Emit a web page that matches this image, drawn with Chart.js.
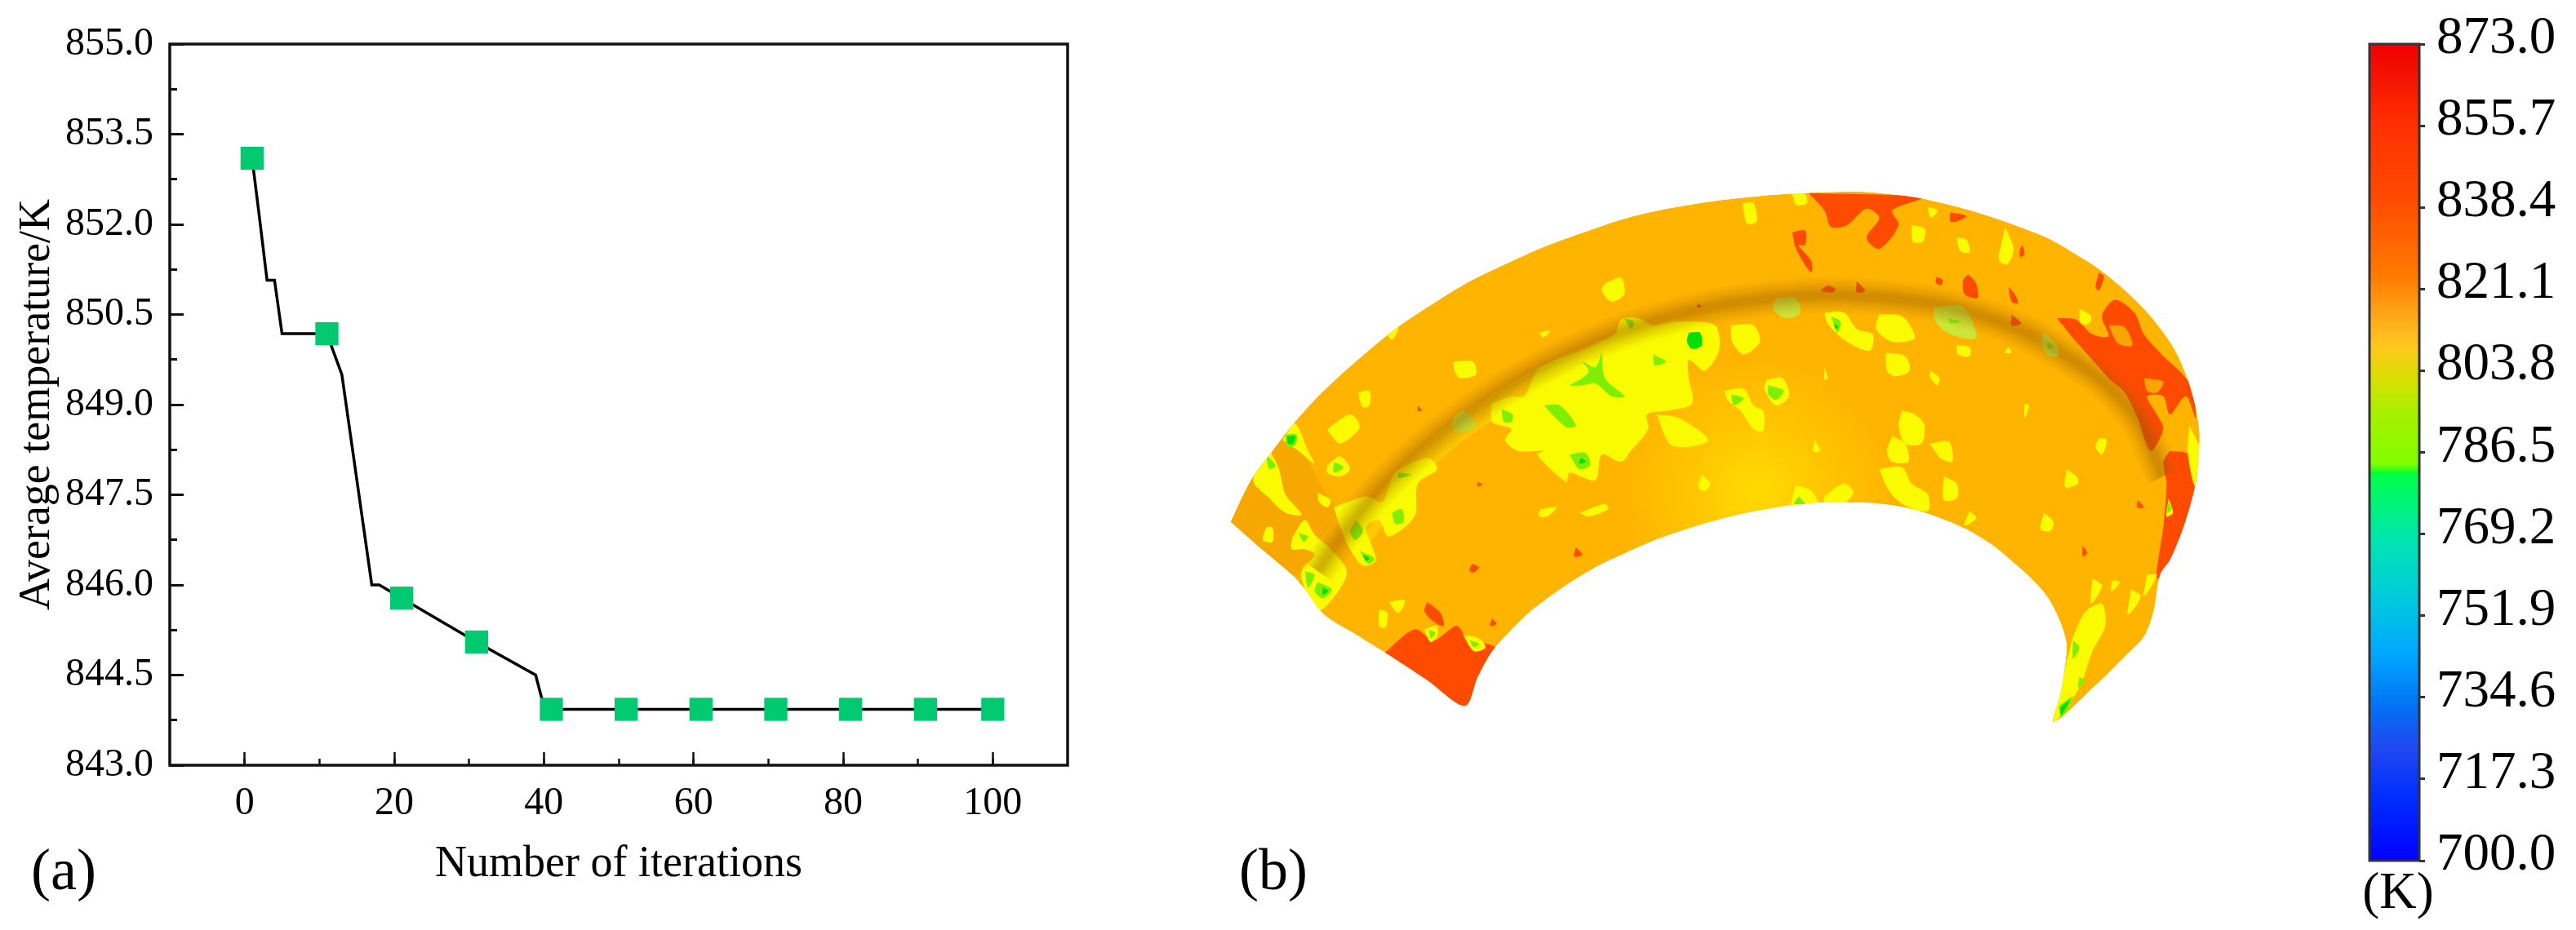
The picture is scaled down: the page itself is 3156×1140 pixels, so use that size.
<!doctype html>
<html>
	<head>
		<meta charset="utf-8" />
		<title>Average temperature and wall temperature field</title>
		<script src="https://cdn.jsdelivr.net/npm/chart.js@4/dist/chart.umd.min.js"></script>
		<style>
			html,
			body {
				margin: 0;
				padding: 0;
				background: #fff;
				overflow: hidden;
			}
			canvas {
				position: absolute;
			}
		</style>
	</head>
	<body>
		<canvas id="curveChart" width="1400" height="1140" style="left: 0; top: 0"></canvas>
		<canvas id="surfaceChart" width="1240" height="940" style="left: 1480px; top: 200px"></canvas>
		<canvas id="barChart" width="356" height="1140" style="left: 2800px; top: 0"></canvas>

		<script>
			// panel (a)
			const lineX = [1, 2, 3, 4, 5, 11, 13, 14.6, 17, 18, 21, 31, 38.9, 39.7, 41, 100];
			const lineY = [853.1, 852.1, 851.07, 851.07, 850.18, 850.18, 849.5, 848.1, 846, 846, 845.78, 845.05, 844.5, 844.12, 843.93, 843.93];
			const markerX = [1, 11, 21, 31, 41, 51, 61, 71, 81, 91, 100];
			const markerY = [853.1, 850.18, 845.78, 845.05, 843.93, 843.93, 843.93, 843.93, 843.93, 843.93, 843.93];
			const xTicks = [0, 20, 40, 60, 80, 100];
			const xMinorTicks = [0, 10, 20, 30, 40, 50, 60, 70, 80, 90, 100];
			const yTicks = [843, 844.5, 846, 847.5, 849, 850.5, 852, 853.5, 855];
			const yMinorTicks = [843.75, 845.25, 846.75, 848.25, 849.75, 851.25, 852.75, 854.25];

			// colour bar of panel (b)
			const barTicks = [700, 717.3, 734.6, 751.9, 769.2, 786.5, 803.8, 821.1, 838.4, 855.7, 873];
			const rampValues = [700, 714, 724, 734, 744, 755, 768, 781.7, 782, 784, 795, 802, 809, 815, 824, 840, 856, 873];
			const rampColors = ["#0000ff", "#0030ff", "#2048f0", "#0078f5", "#00a8ff", "#00c8e0", "#00e6b0", "#00ff4a", "#00ff30", "#7fff00", "#a8f000", "#d8e000", "#ffc81e", "#ffaa1a", "#ff7a00", "#ff4b00", "#ff3000", "#ee0000"];

			// panel (b), outlines on a 1568 x 1568 grid
			const surfaceOutline = [[35,985],[52,920],[70,860],[100,790],[130,720],[165,650],[200,590],[245,520],[290,455],[345,390],[400,330],[460,278],[520,230],[585,188],[650,150],[715,124],[780,105],[855,90],[930,82],[1000,78],[1050,84],[1100,95],[1150,115],[1200,140],[1250,170],[1300,205],[1340,245],[1380,290],[1418,345],[1450,400],[1478,460],[1500,520],[1517,590],[1530,670],[1536,740],[1535,800],[1530,880],[1520,950],[1507,1020],[1490,1090],[1475,1130],[1465,1230],[1450,1300],[1420,1355],[1380,1425],[1310,1535],[1320,1460],[1326,1400],[1330,1320],[1318,1250],[1300,1190],[1278,1145],[1250,1100],[1218,1052],[1180,1010],[1135,975],[1090,950],[1045,936],[1000,932],[950,932],[900,940],[850,955],[800,975],[750,1000],[700,1030],[650,1068],[600,1110],[550,1165],[500,1230],[468,1285],[440,1340],[418,1410],[398,1490],[340,1420],[280,1350],[230,1295],[180,1240],[150,1170],[130,1130],[80,1055]];
			const darkerPatches = [
				[[35,985],[70,860],[130,720],[150,800],[180,900],[200,960],[160,1060],[140,1130],[130,1130],[80,1055]],
			];
			const ridgeLine = [[170,1120],[205,1030],[280,870],[400,690],[540,540],[700,430],[880,370],[1050,370],[1200,420],[1330,530],[1430,680],[1480,860]];
			const glowLine = [[235,1030],[320,840],[450,660],[590,530],[730,455]];
			const redPatches = [
				[[930,82],[1105,95],[1060,130],[1070,170],[1040,235],[1020,205],[1040,150],[1020,125],[990,170],[965,175],[955,130]],
				[[905,190],[925,185],[925,225],[915,225],[935,270],[935,300],[925,280],[910,230]],
				[[1150,135],[1175,145],[1160,160],[1150,160]],
				[[1178,305],[1190,330],[1192,370],[1172,360],[1170,320]],
				[[1128,312],[1138,320],[1136,335],[1128,330]],
				[[1240,340],[1250,360],[1255,385],[1245,380]],
				[[1005,325],[1018,350],[1005,355]],
				[[960,335],[972,345],[968,355],[950,350]],
				[[1380,300],[1388,310],[1380,350],[1375,340]],
				[[1315,425],[1345,430],[1370,470],[1395,475],[1385,420],[1405,375],[1435,410],[1450,470],[1480,530],[1510,580],[1525,620],[1530,700],[1515,640],[1490,690],[1480,640],[1455,640],[1470,690],[1480,730],[1460,790],[1440,700],[1420,630],[1395,590],[1370,540],[1340,480]],
				[[1490,790],[1520,800],[1536,880],[1525,950],[1510,1020],[1495,1090],[1470,1140],[1480,1000],[1485,880],[1480,820]],
				[[270,1350],[320,1280],[350,1310],[385,1270],[400,1300],[460,1345],[430,1420],[398,1510],[340,1430]],
				[[340,1205],[360,1235],[365,1270],[350,1260],[335,1230]],
				[[1245,415],[1260,440],[1245,445]],
				[[1440,925],[1450,945],[1440,945]],
				[[570,1055],[580,1075],[567,1080]],
				[[410,1100],[420,1110],[410,1125],[405,1115]],
				[[325,665],[332,680],[325,680]],
				[[440,1250],[447,1265],[437,1270]],
				[[1355,1050],[1362,1070],[1355,1080]],
				[[760,385],[765,395],[757,395]],
				[[1262,225],[1265,250],[1258,258],[1258,235]],
				[[418,875],[425,882],[418,888]],
			];
			const orangeHoles = [
				[[1395,445],[1420,450],[1432,500],[1410,495]],
				[[1450,590],[1480,600],[1470,630],[1455,625]],
			];
			const yellowPatches = [
				[[440,660],[470,640],[490,640],[510,570],[540,540],[570,520],[630,470],[640,430],[665,425],[690,445],[730,435],[785,445],[792,510],[770,570],[745,540],[745,590],[750,660],[710,680],[680,690],[682,730],[655,790],[640,820],[610,800],[600,870],[560,850],[555,875],[510,800],[520,790],[480,790],[460,760],[470,730],[440,710]],
				[[695,690],[730,700],[775,760],[740,780],[715,770]],
				[[380,545],[410,545],[415,580],[390,590],[382,570]],
				[[615,330],[640,315],[645,360],[625,380],[610,350]],
				[[828,110],[845,110],[850,160],[835,165]],
				[[810,445],[845,445],[855,490],[830,525],[812,490]],
				[[1040,415],[1075,420],[1095,480],[1060,490],[1035,455]],
				[[955,410],[985,410],[1005,455],[1030,470],[1025,515],[990,490],[960,440]],
				[[1050,520],[1080,530],[1087,570],[1065,585],[1052,570]],
				[[1090,170],[1110,180],[1108,215],[1092,215]],
				[[1160,205],[1175,210],[1180,245],[1165,240]],
				[[1235,175],[1248,235],[1238,278],[1225,265],[1230,215]],
				[[1115,120],[1130,130],[1120,150]],
				[[905,85],[925,85],[928,110],[912,115]],
				[[1350,400],[1368,420],[1365,440],[1352,440]],
				[[1160,500],[1180,505],[1180,530],[1162,525]],
				[[1120,570],[1133,590],[1130,610],[1118,585]],
				[[1075,680],[1095,690],[1110,720],[1105,770],[1080,770],[1070,720]],
				[[1060,750],[1080,770],[1085,820],[1060,820],[1052,790]],
				[[1118,770],[1148,765],[1153,820],[1135,810]],
				[[1040,840],[1075,835],[1090,880],[1115,910],[1115,955],[1080,940],[1055,900]],
				[[1140,860],[1160,880],[1160,920],[1140,925]],
				[[1330,840],[1345,860],[1348,880],[1328,890]],
				[[1180,955],[1190,975],[1172,995]],
				[[1295,960],[1310,985],[1305,1010],[1290,1005]],
				[[1380,755],[1392,760],[1385,800],[1375,780]],
				[[1265,660],[1272,665],[1265,700]],
				[[800,625],[830,620],[845,665],[860,680],[860,735],[845,730],[825,680],[805,650]],
				[[865,595],[890,590],[900,640],[880,665],[862,620]],
				[[1240,505],[1245,520],[1235,520]],
				[[955,560],[960,590],[955,595]],
				[[940,760],[948,790],[938,792]],
				[[910,885],[935,900],[945,945],[905,950]],
				[[955,915],[985,880],[1000,905],[980,940],[955,942]],
				[[765,855],[778,880],[770,900],[760,890]],
				[[575,960],[615,935],[620,950],[590,970]],
				[[515,950],[540,945],[525,970],[512,968]],
				[[512,465],[530,460],[520,478]],
				[[185,730],[220,690],[235,725],[205,770],[190,745]],
				[[232,630],[250,625],[250,665],[240,670]],
				[[115,760],[135,715],[155,790],[165,825],[140,790]],
				[[185,830],[205,805],[220,840],[205,860],[185,850]],
				[[275,465],[295,450],[285,485]],
				[[95,785],[110,840],[120,910],[145,965],[120,960],[95,920],[70,870]],
				[[90,1000],[100,1000],[100,1040],[85,1035]],
				[[170,905],[190,925],[185,945],[172,930]],
				[[130,1030],[150,980],[165,1020],[190,1060],[215,1120],[200,1180],[170,1230],[150,1170],[145,1120],[165,1075],[150,1060],[130,1060]],
				[[195,945],[245,915],[270,930],[290,850],[340,810],[355,840],[325,880],[320,970],[280,1025],[265,980],[245,1000],[260,1090],[240,1105],[220,1060],[205,1000]],
				[[280,1205],[305,1200],[295,1235]],
				[[265,1225],[278,1235],[275,1275],[265,1270]],
				[[335,1280],[355,1270],[355,1300],[345,1315]],
				[[395,1295],[420,1305],[430,1330],[412,1340]],
				[[1340,1300],[1360,1230],[1385,1210],[1390,1270],[1370,1340],[1350,1440],[1310,1535],[1326,1400]],
				[[1430,1170],[1445,1190],[1425,1240]],
				[[1370,1140],[1385,1160],[1368,1210]],
				[[1400,1145],[1412,1150],[1400,1175]],
				[[1455,1130],[1470,1130],[1450,1190]],
				[[1520,720],[1540,800],[1530,890],[1518,800]],
				[[1488,920],[1495,960],[1485,970]],
			];
			const paleGreenPatches = [
				[[880,370],[910,370],[918,410],[895,425],[875,400]],
				[[1125,395],[1170,395],[1190,480],[1150,470],[1125,430]],
				[[1295,465],[1315,500],[1318,530],[1300,525],[1290,490]],
				[[380,700],[395,680],[415,720],[385,740],[378,720]],
			];
			const lightGreenPatches = [
				[[610,520],[615,590],[645,640],[625,640],[600,605],[580,610],[560,610],[580,590],[590,570],[580,545],[600,560]],
				[[520,665],[545,665],[570,720],[555,725]],
				[[560,800],[585,795],[592,830],[575,840]],
				[[455,675],[472,690],[470,710],[458,710]],
				[[645,425],[660,435],[655,455]],
				[[690,525],[710,545],[692,555]],
				[[810,635],[830,645],[815,665]],
				[[868,610],[892,625],[880,650],[868,635]],
				[[230,980],[240,1010],[228,1035],[220,1010]],
				[[285,960],[300,950],[303,985],[290,990]],
				[[295,850],[315,855],[295,865]],
				[[235,1065],[258,1085],[248,1100]],
				[[170,1150],[192,1170],[178,1195],[165,1175]],
				[[150,1120],[165,1130],[155,1165]],
				[[140,1015],[155,1025],[148,1040]],
				[[195,820],[210,835],[195,850]],
				[[90,800],[105,830],[95,840]],
				[[120,745],[137,745],[135,775],[122,775]],
				[[965,420],[980,435],[975,465]],
				[[1145,425],[1165,435],[1150,440]],
				[[1300,490],[1310,505],[1302,510]],
				[[1340,1310],[1350,1330],[1340,1360]],
				[[1350,1410],[1358,1420],[1348,1440]],
				[[1318,1490],[1340,1465],[1322,1525]],
				[[405,1310],[420,1320],[412,1330]],
				[[915,915],[925,935],[908,935]],
				[[342,1280],[352,1290],[345,1305]],
				[[1488,930],[1493,950],[1486,960]],
			];
			const greenPatches = [
				[[745,465],[762,465],[765,500],[750,510],[742,490]],
				[[122,750],[135,750],[132,770],[124,770]],
				[[240,1075],[250,1085],[245,1092]],
				[[178,1165],[186,1175],[178,1185]],
				[[970,440],[977,450],[972,455]],
				[[578,808],[585,820],[575,825]],
				[[1320,1495],[1335,1475],[1322,1515]],
			];

			const serif = "'Liberation Serif', 'Times New Roman', serif";
			const ink = "#111";

			const boxFrame = {
				id: "boxFrame",
				afterDraw(chart, args, opts) {
					const { ctx, chartArea: a } = chart;
					ctx.save();
					ctx.strokeStyle = opts.color;
					ctx.lineWidth = opts.width;
					ctx.strokeRect(a.left, a.top, a.right - a.left, a.bottom - a.top);
					ctx.restore();
				},
			};
			const panelLabel = {
				id: "panelLabel",
				afterDraw(chart, args, opts) {
					const { ctx } = chart;
					ctx.save();
					ctx.font = opts.size + "px " + serif;
					ctx.fillStyle = "#000";
					ctx.textAlign = "center";
					ctx.textBaseline = "middle";
					ctx.fillText(opts.text, opts.x, opts.y);
					ctx.restore();
				},
			};
			// everything on the shell stays inside dataset 0, the shell outline
			const surfaceClip = {
				id: "surfaceClip",
				beforeDatasetsDraw(chart) {
					const { ctx } = chart;
					ctx.save();
					ctx.beginPath();
					chart.getDatasetMeta(0).dataset.path(ctx);
					ctx.clip();
				},
				afterDatasetsDraw(chart) {
					chart.ctx.restore();
				},
			};

			function setTicks(values) {
				return (axis) => {
					axis.ticks = values.map((value) => ({ value }));
				};
			}
			// fixed axis box, no extra room for the end labels
			function fixSize(key, size) {
				return (s) => {
					s[key] = size;
					s.paddingTop = s.paddingBottom = s.paddingLeft = s.paddingRight = 0;
				};
			}

			new Chart(document.getElementById("curveChart"), {
				type: "scatter",
				plugins: [boxFrame, panelLabel],
				data: {
					datasets: [
						{
							data: markerX.map((x, i) => ({ x, y: markerY[i] })),
							pointStyle: "rect",
							pointRadius: 20,
							backgroundColor: "#00c96f",
							borderWidth: 0,
							showLine: false,
						},
						{
							data: lineX.map((x, i) => ({ x, y: lineY[i] })),
							showLine: true,
							borderColor: "#000",
							borderWidth: 3.5,
							pointRadius: 0,
						},
					],
				},
				options: {
					responsive: false,
					animation: false,
					layout: { padding: { top: 54, right: 92 } },
					plugins: {
						legend: { display: false },
						tooltip: { enabled: false },
						boxFrame: { color: ink, width: 3.5 },
						panelLabel: { text: "(a)", x: 78, y: 1071, size: 72 },
					},
					scales: {
						x: {
							min: -10,
							max: 110,
							afterBuildTicks: setTicks(xTicks),
							afterFit: fixSize("height", 202),
							border: { display: false },
							grid: { drawOnChartArea: false, tickLength: -16, tickWidth: 2.5, tickColor: ink },
							ticks: { autoSkip: false, maxRotation: 0, padding: 35, color: "#000", font: { family: serif, size: 48 } },
							title: { display: true, text: "Number of iterations", color: "#000", font: { family: serif, size: 54 }, padding: { top: 0, bottom: 48 } },
						},
						xMinor: {
							axis: "x",
							position: "bottom",
							weight: -1,
							min: -10,
							max: 110,
							afterBuildTicks: setTicks(xMinorTicks),
							afterFit: fixSize("height", 0),
							border: { display: false },
							grid: { drawOnChartArea: false, tickLength: -8, tickWidth: 2.5, tickColor: ink },
							ticks: { display: false },
						},
						y: {
							min: 843,
							max: 855,
							afterBuildTicks: setTicks(yTicks),
							afterFit: fixSize("width", 208),
							border: { display: false },
							grid: { drawOnChartArea: false, tickLength: -17, tickWidth: 3, tickColor: ink },
							ticks: { autoSkip: false, padding: 37, color: "#000", font: { family: serif, size: 48 }, callback: (v) => v.toFixed(1) },
							title: { display: true, text: "Average temperature/K", color: "#000", font: { family: serif, size: 54 }, padding: { top: 13, bottom: 0 } },
						},
						yMinor: {
							axis: "y",
							position: "left",
							weight: -1,
							min: 843,
							max: 855,
							afterBuildTicks: setTicks(yMinorTicks),
							afterFit: fixSize("width", 0),
							border: { display: false },
							grid: { drawOnChartArea: false, tickLength: -9, tickWidth: 3, tickColor: ink },
							ticks: { display: false },
						},
					},
				},
			});

			// base fill has a soft yellow glow low in the middle of the shell
			function baseFill(context) {
				const { ctx, scales } = context.chart;
				const cx = scales.x.getPixelForValue(850);
				const cy = scales.y.getPixelForValue(900);
				if (!isFinite(cx) || !isFinite(cy)) return "#ffb400";
				const g = ctx.createRadialGradient(cx, cy, 10, cx, cy, 170);
				g.addColorStop(0, "#ffd800");
				g.addColorStop(0.5, "#ffc400");
				g.addColorStop(1, "#ffb400");
				return g;
			}

			function patchSets(list, color) {
				return list.map((shape) => ({
					data: shape.concat([shape[0]]),
					backgroundColor: color,
					borderColor: color,
					borderWidth: 0,
					fill: "shape",
					tension: 0.3,
				}));
			}
			function bandSet(data, color, width) {
				return { data, borderColor: color, borderWidth: width, fill: false, tension: 0.4, borderCapStyle: "butt" };
			}

			const surfaceSets = [
				{ data: surfaceOutline.concat([surfaceOutline[0]]), backgroundColor: baseFill, borderWidth: 0, fill: "shape", tension: 0.3 },
				...patchSets(darkerPatches, "#f6a800"),
				...patchSets(redPatches, "#ff4b00"),
				...patchSets(orangeHoles, "#f9a500"),
				bandSet(glowLine, "rgba(255,255,0,0.3)", 26),
				...patchSets(yellowPatches, "#fbfb00"),
				...patchSets(paleGreenPatches, "#cbe63a"),
				...patchSets(lightGreenPatches, "#80ee00"),
				...patchSets(greenPatches, "#00e000"),
				bandSet(ridgeLine, "rgba(160,100,0,0.05)", 44),
				bandSet(ridgeLine, "rgba(160,100,0,0.06)", 38),
				bandSet(ridgeLine, "rgba(160,100,0,0.07)", 32),
				bandSet(ridgeLine, "rgba(160,100,0,0.08)", 26),
				bandSet(ridgeLine, "rgba(150,90,0,0.09)", 20),
				bandSet(ridgeLine, "rgba(150,90,0,0.1)", 14),
				bandSet(ridgeLine, "rgba(150,90,0,0.1)", 8),
			];
			surfaceSets.forEach((set, i) => {
				set.order = surfaceSets.length - i;
				set.showLine = true;
				set.pointRadius = 0;
			});

			new Chart(document.getElementById("surfaceChart"), {
				type: "scatter",
				plugins: [surfaceClip, panelLabel],
				data: { datasets: surfaceSets },
				options: {
					responsive: false,
					animation: false,
					layout: { padding: { bottom: 240 } },
					plugins: {
						legend: { display: false },
						tooltip: { enabled: false },
						panelLabel: { text: "(b)", x: 80, y: 871, size: 72 },
					},
					scales: {
						x: { display: false, min: 0, max: 1568 },
						y: { display: false, min: 0, max: 1568, reverse: true },
					},
				},
			});

			function rampFill(context) {
				const { ctx, scales } = context.chart;
				const y0 = scales.y.getPixelForValue(700);
				const y1 = scales.y.getPixelForValue(873);
				if (!isFinite(y0) || !isFinite(y1)) return "#ff7a00";
				const g = ctx.createLinearGradient(0, y0, 0, y1);
				rampValues.forEach((v, i) => g.addColorStop((v - 700) / 173, rampColors[i]));
				return g;
			}

			new Chart(document.getElementById("barChart"), {
				type: "bar",
				plugins: [boxFrame, panelLabel],
				data: {
					labels: ["T"],
					datasets: [{ data: [[700, 873]], backgroundColor: rampFill, barPercentage: 1, categoryPercentage: 1 }],
				},
				options: {
					responsive: false,
					animation: false,
					layout: { padding: { top: 54, left: 103 } },
					plugins: {
						legend: { display: false },
						tooltip: { enabled: false },
						boxFrame: { color: "#333", width: 3 },
						panelLabel: { text: "(K)", x: 138, y: 1096, size: 63 },
					},
					scales: {
						x: {
							afterFit: fixSize("height", 85),
							border: { display: false },
							grid: { display: false },
							ticks: { display: false },
						},
						y: {
							position: "right",
							min: 700,
							max: 873,
							afterBuildTicks: setTicks(barTicks),
							afterFit: fixSize("width", 192),
							border: { display: false },
							grid: { drawOnChartArea: false, tickLength: 7, tickWidth: 3, tickColor: "#333" },
							ticks: { autoSkip: false, padding: 14, labelOffset: -6, color: "#000", font: { family: serif, size: 65 }, callback: (v) => v.toFixed(1) },
						},
					},
				},
			});
		</script>
	</body>
</html>
